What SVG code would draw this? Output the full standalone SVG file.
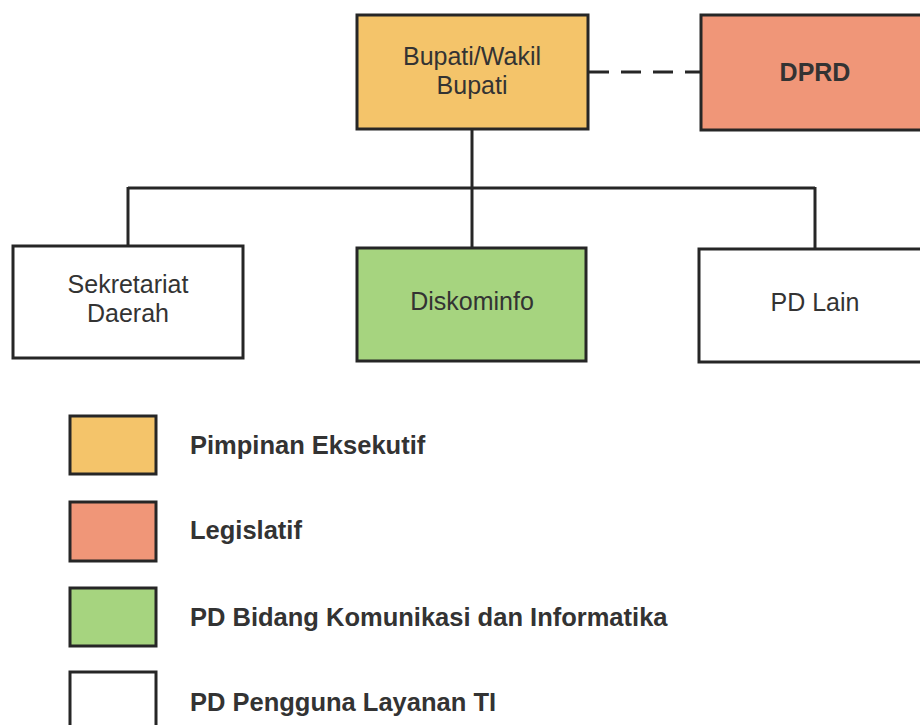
<svg xmlns="http://www.w3.org/2000/svg" width="920" height="725" viewBox="0 0 920 725">
<style>
.box{stroke:#262626;stroke-width:3}
.lbl{font-family:"Liberation Sans",Arial,sans-serif;font-size:25px;fill:#333;text-anchor:middle}
.leg{font-family:"Liberation Sans",Arial,sans-serif;font-size:25.5px;font-weight:bold;fill:#333}
.conn{stroke:#262626;stroke-width:3;fill:none}
</style>
<rect width="920" height="725" fill="#fff"/>
<g id="connectors">
<line class="conn" x1="472" y1="129" x2="472" y2="248"/>
<line class="conn" x1="128" y1="188" x2="815" y2="188"/>
<line class="conn" x1="128" y1="187" x2="128" y2="246"/>
<line class="conn" x1="815" y1="187" x2="815" y2="249"/>
<line class="conn" x1="589" y1="72" x2="701" y2="72" stroke-dasharray="20 12"/>
</g>
<g id="bupati">
<rect class="box" x="357" y="15" width="231" height="114" fill="#F4C46A"/>
<text class="lbl" x="472" y="65">Bupati/Wakil</text>
<text class="lbl" x="472" y="94">Bupati</text>
</g>
<g id="dprd">
<rect class="box" x="701" y="15" width="230" height="115" fill="#F09678"/>
<text class="lbl" x="815" y="81" font-weight="bold">DPRD</text>
</g>
<g id="sekretariat">
<rect class="box" x="13" y="246" width="230" height="112" fill="#fff"/>
<text class="lbl" x="128" y="293">Sekretariat</text>
<text class="lbl" x="128" y="322">Daerah</text>
</g>
<g id="diskominfo">
<rect class="box" x="357" y="248" width="229" height="113" fill="#A6D47F"/>
<text class="lbl" x="472" y="310">Diskominfo</text>
</g>
<g id="pdlain">
<rect class="box" x="699" y="249" width="232" height="113" fill="#fff"/>
<text class="lbl" x="815" y="311">PD Lain</text>
</g>
<g id="legend-eksekutif">
<rect class="box" x="70" y="416" width="86" height="58" fill="#F4C46A"/>
<text class="leg" x="190" y="454">Pimpinan Eksekutif</text>
</g>
<g id="legend-legislatif">
<rect class="box" x="70" y="502" width="86" height="59" fill="#F09678"/>
<text class="leg" x="190" y="539">Legislatif</text>
</g>
<g id="legend-kominfo">
<rect class="box" x="70" y="588" width="86" height="58" fill="#A6D47F"/>
<text class="leg" x="190" y="626">PD Bidang Komunikasi dan Informatika</text>
</g>
<g id="legend-pengguna">
<rect class="box" x="70" y="672" width="86" height="60" fill="#fff"/>
<text class="leg" x="190" y="711">PD Pengguna Layanan TI</text>
</g>
</svg>
